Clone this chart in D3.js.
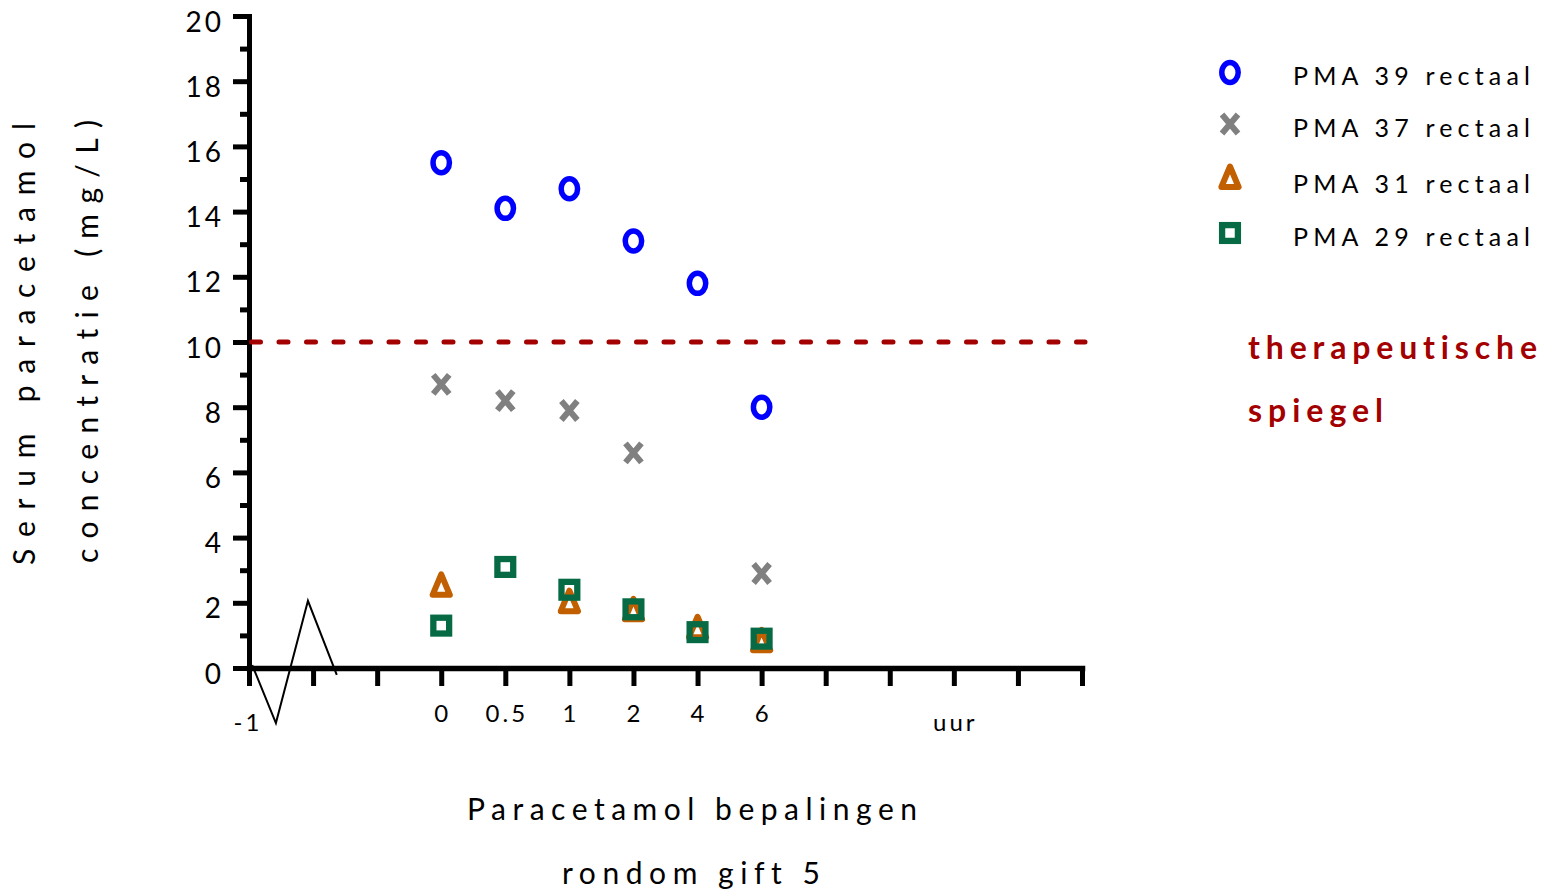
<!DOCTYPE html>
<html>
<head>
<meta charset="utf-8">
<script src="https://cdn.jsdelivr.net/npm/d3@7"></script>
<style>
  html, body { margin: 0; padding: 0; background: #fff; }
  svg { display: block; font-family: Lato, "Open Sans", sans-serif; font-variant-ligatures: none; font-feature-settings: "liga" 0, "clig" 0; }
</style>
</head>
<body>
<svg id="chart" width="1543" height="894"></svg>
<script>
// Sampling moments (hours relative to dose 5) and the slots on the x axis
const xSlots = ["-1", "", "", "0", "0.5", "1", "2", "4", "6", "", "", "uur", "", ""];
const hours = ["0", "0.5", "1", "2", "4", "6"];

// Serum paracetamol (mg/L) per patient; null = not measured
const pma39 = [15.5, 14.1, 14.7, 13.1, 11.8, 8.0];
const pma37 = [8.7, 8.2, 7.9, 6.6, null, 2.9];
const pma31 = [2.55, null, 2.05, 1.8, 1.25, 0.85];
const pma29 = [1.3, 3.1, 2.4, 1.8, 1.1, 0.9];

const seriesNames = ["PMA 39 rectaal", "PMA 37 rectaal", "PMA 31 rectaal", "PMA 29 rectaal"];
const therapeuticLevel = 10;
const yTicksMajor = [0, 2, 4, 6, 8, 10, 12, 14, 16, 18, 20];
const yTicksMinor = [1, 3, 5, 7, 9, 11, 13, 15, 17, 19];

// axis break zig-zag, in (slot, mg/L) units
const breakMark = [[0.05, 0.09], [0.42, -1.69], [0.92, 2.06], [1.37, -0.21]];

const svg = d3.select("#chart");

const x = d3.scaleLinear().domain([0, xSlots.length - 1]).range([249, 1082]);
const y = d3.scaleLinear().domain([0, 20]).range([668, 16]);
const slotOf = h => xSlots.indexOf(h);

// ---- y axis (major + minor ticks)
const yMajor = svg.append("g").attr("transform", `translate(${x(0)},0)`)
  .call(d3.axisLeft(y).tickValues(yTicksMajor).tickSize(16).tickSizeOuter(0).tickFormat(""));
const yMinor = svg.append("g").attr("transform", `translate(${x(0)},0)`)
  .call(d3.axisLeft(y).tickValues(yTicksMinor).tickSize(9).tickSizeOuter(0).tickFormat(""));
yMinor.select(".domain").remove();
[yMajor, yMinor].forEach(g => {
  g.selectAll(".tick line").attr("stroke", "#000").attr("stroke-width", 5);
});
yMajor.select(".domain").attr("stroke", "#000").attr("stroke-width", 5).attr("stroke-linecap", "square");

svg.append("g").selectAll("text").data(yTicksMajor).join("text")
  .attr("x", 224).attr("y", d => y(d) + 15.5)
  .attr("text-anchor", "end")
  .style("font-size", "28px").style("letter-spacing", "3px")
  .text(d => d);

// ---- x axis
const xAxis = svg.append("g").attr("transform", `translate(0,${y(0)})`)
  .call(d3.axisBottom(x).tickValues(d3.range(xSlots.length)).tickSize(18).tickSizeOuter(0).tickFormat(""));
xAxis.selectAll(".tick line").attr("stroke", "#000").attr("stroke-width", 5);
xAxis.select(".domain").attr("stroke", "#000").attr("stroke-width", 5.5).attr("stroke-linecap", "square");

svg.append("g").selectAll("text")
  .data(xSlots.map((l, i) => ({ l, i })).filter(d => d.l !== ""))
  .join("text")
  .attr("x", d => x(d.i) + (d.l === "-1" ? -1 : 1.5))
  .attr("y", d => (hours.includes(d.l) ? 722 : 731))
  .attr("text-anchor", "middle")
  .style("font-size", "24px").style("letter-spacing", "3px")
  .text(d => d.l);

// ---- therapeutic level line
svg.append("line")
  .attr("x1", x(0) + 2.5).attr("x2", x(13) + 3)
  .attr("y1", y(therapeuticLevel)).attr("y2", y(therapeuticLevel))
  .attr("stroke", "#a30000").attr("stroke-width", 5)
  .attr("stroke-dasharray", "9 18.5").attr("stroke-linecap", "round");

// ---- axis break
svg.append("path")
  .attr("d", d3.line().x(d => x(d[0])).y(d => y(d[1]))(breakMark))
  .attr("fill", "none").attr("stroke", "#000").attr("stroke-width", 2);

// ---- markers
const colors = ["#0000ff", "#808080", "#c25f00", "#066b45"];

function drawMarker(g, kind) {
  if (kind === 0) {
    g.append("ellipse").attr("rx", 8.2).attr("ry", 10)
      .attr("fill", "none").attr("stroke", colors[0]).attr("stroke-width", 5.5);
  } else if (kind === 1) {
    g.append("path").attr("d", "M-8,-9.5L8,9.5M8,-9.5L-8,9.5")
      .attr("fill", "none").attr("stroke", colors[1]).attr("stroke-width", 6);
  } else if (kind === 2) {
    g.append("path").attr("d", "M0,-10.5L8.6,10L-8.6,10Z")
      .attr("fill", "none").attr("stroke", colors[2]).attr("stroke-width", 6)
      .attr("stroke-linejoin", "round");
  } else {
    g.append("rect").attr("x", -7.9).attr("y", -7.9).attr("width", 15.8).attr("height", 15.8)
      .attr("fill", "none").attr("stroke", colors[3]).attr("stroke-width", 6.3);
  }
}

[pma39, pma37, pma31, pma29].forEach((vals, k) => {
  const pts = vals.map((v, i) => ({ v, h: hours[i] })).filter(d => d.v !== null);
  svg.append("g").selectAll("g").data(pts).join("g")
    .attr("transform", d => `translate(${x(slotOf(d.h))},${y(d.v)})`)
    .each(function () { drawMarker(d3.select(this), k); });
});

// ---- legend
const legendY = [72.5, 124, 177, 233];
const legendBase = [85, 137, 193, 246];
seriesNames.forEach((name, k) => {
  const g = svg.append("g").attr("transform", `translate(1230,${legendY[k]})`);
  drawMarker(g, k);
  svg.append("text").attr("x", 1293).attr("y", legendBase[k])
    .attr("textLength", 237).attr("lengthAdjust", "spacing")
    .style("font-size", "25px").text(name);
});

svg.append("text").attr("x", 1248).attr("y", 359)
  .attr("textLength", 289).attr("lengthAdjust", "spacing")
  .style("font-size", "32px").style("font-weight", "bold").attr("fill", "#a30000")
  .text("therapeutische");
svg.append("text").attr("x", 1248).attr("y", 422)
  .attr("textLength", 135).attr("lengthAdjust", "spacing")
  .style("font-size", "32px").style("font-weight", "bold").attr("fill", "#a30000")
  .text("spiegel");

// ---- axis titles
svg.append("text").attr("transform", "translate(35,565) rotate(-90)")
  .attr("textLength", 442).attr("lengthAdjust", "spacing")
  .style("font-size", "30px").text("Serum paracetamol");
svg.append("text").attr("transform", "translate(98,563) rotate(-90)")
  .attr("textLength", 443).attr("lengthAdjust", "spacing")
  .style("font-size", "30px").text("concentratie (mg/L)");

svg.append("text").attr("x", 467).attr("y", 820)
  .attr("textLength", 450).attr("lengthAdjust", "spacing")
  .style("font-size", "30px").text("Paracetamol bepalingen");
svg.append("text").attr("x", 562).attr("y", 884)
  .attr("textLength", 258).attr("lengthAdjust", "spacing")
  .style("font-size", "30px").text("rondom gift 5");
</script>
</body>
</html>
